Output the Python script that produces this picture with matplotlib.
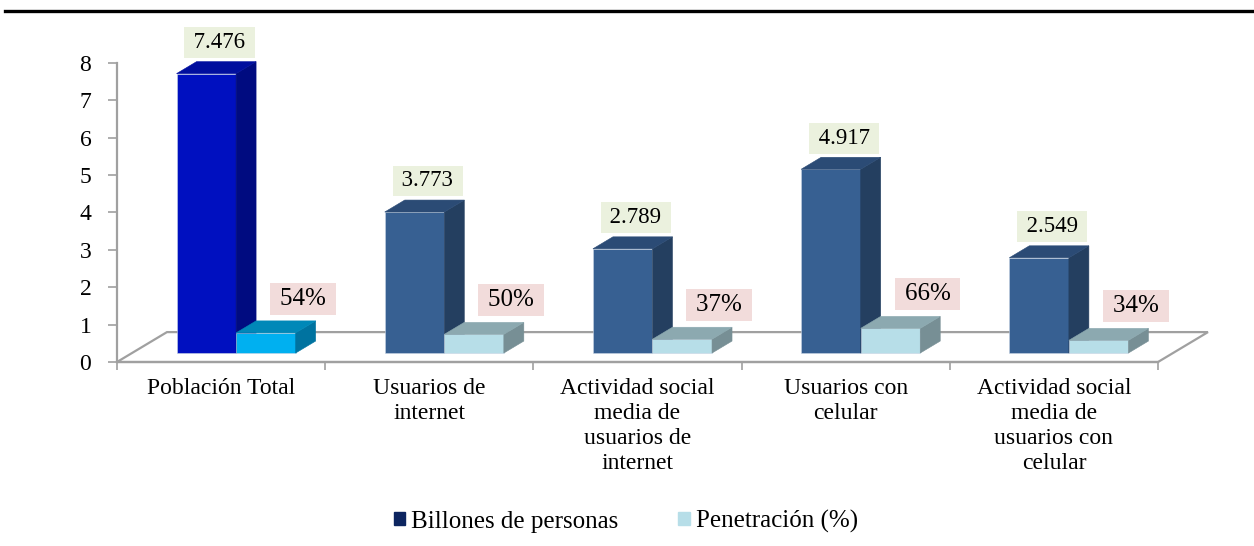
import matplotlib
matplotlib.use('Agg')
from matplotlib import pyplot as plt
from matplotlib.patches import Polygon, Patch
from matplotlib.lines import Line2D

# data
categories = ['Población Total', 'Usuarios de\ninternet',
              'Actividad social\nmedia de\nusuarios de\ninternet',
              'Usuarios con\ncelular',
              'Actividad social\nmedia de\nusuarios con\ncelular']
billones = [7.476, 3.773, 2.789, 4.917, 2.549]
penetracion = [54, 50, 37, 66, 34]
series_names = ['Billones de personas', 'Penetración (%)']

plt.rcParams['font.family'] = ['Liberation Serif', 'DejaVu Serif']

# colours: (front, side, top)
first_dark = ('#0010C0', '#000B80', '#000E9E')
first_light = ('#00B0F0', '#0073A0', '#0088B8')
dark = ('#376092', '#243F60', '#2B4B75')
light = ('#B7DEE8', '#778F95', '#8CA9B0')
grey = '#A0A0A0'

fig = plt.figure(figsize=(12.54, 5.46), dpi=100)
ax = fig.add_axes([117 / 1254, (546 - 362) / 546, (1158 - 117) / 1254, (362 - 63) / 546])
ax.set_xlim(0, 5)
ax.set_ylim(0, 8)

# fake 3D geometry (data units)
floor_dx, floor_dy = 0.24, 0.80
bw = 0.286
off_x, off_y = 0.072, 0.24
dep_x, dep_y = 0.096, 0.32

# floor outline
ax.add_patch(Polygon([(0, 0), (floor_dx, floor_dy), (5 + floor_dx, floor_dy), (5, 0)],
                     closed=True, fill=False, edgecolor=grey, lw=1.6, clip_on=False, zorder=1))


def box(x0, h, cols):
    front, side, top = cols
    y0 = off_y
    x1 = x0 + bw
    ax.add_patch(Polygon([(x0, y0), (x1, y0), (x1, y0 + h), (x0, y0 + h)],
                         facecolor=front, edgecolor='#C8D4E4', lw=0.4, clip_on=False, zorder=3))
    ax.add_patch(Polygon([(x1, y0), (x1 + dep_x, y0 + dep_y), (x1 + dep_x, y0 + h + dep_y), (x1, y0 + h)],
                         facecolor=side, edgecolor=side, lw=0.4, clip_on=False, zorder=3))
    ax.add_patch(Polygon([(x0, y0 + h), (x1, y0 + h), (x1 + dep_x, y0 + h + dep_y), (x0 + dep_x, y0 + h + dep_y)],
                         facecolor=top, edgecolor=top, lw=0.4, clip_on=False, zorder=3))


ts = '\u2009'
for i, (b, p) in enumerate(zip(billones, penetracion)):
    c = i + 0.5
    cd = first_dark if i == 0 else dark
    cl = first_light if i == 0 else light
    x_dark = c - bw + off_x
    x_light = c + off_x
    box(x_dark, b, cd)
    box(x_light, p / 100, cl)
    ax.text(x_dark + bw / 2 + dep_x / 2 + 0.015, b + off_y + dep_y + 0.51, ts + f'{b:.3f}' + ts,
            ha='center', va='center', fontsize=16.5, zorder=5,
            bbox=dict(boxstyle='square,pad=0.21', fc='#EBF1DE', ec='none'))
    ax.text(x_light + bw / 2 + dep_x / 2 + 0.13, p / 100 + off_y + dep_y + 0.59, ts + f'{p}%' + ts,
            ha='center', va='center', fontsize=18, zorder=5,
            bbox=dict(boxstyle='square,pad=0.2', fc='#F2DCDB', ec='none'))

# axes styling
for s in ['top', 'right']:
    ax.spines[s].set_visible(False)
ax.spines['left'].set_color(grey)
ax.spines['bottom'].set_color(grey)
ax.spines['left'].set_linewidth(1.6)
ax.spines['bottom'].set_linewidth(1.6)
ax.set_yticks(range(0, 9))
ax.tick_params(axis='y', colors=grey, length=6.5, width=1.2, labelsize=17, labelcolor='black', pad=12)
ax.set_xticks(range(0, 6))
ax.set_xticklabels([])
ax.tick_params(axis='x', colors=grey, length=6, width=1.2, direction='out')
ax.set_xticks([i + 0.5 for i in range(5)], minor=True)
ax.set_xticklabels(categories, minor=True, fontsize=17, linespacing=1.26)
ax.tick_params(axis='x', which='minor', length=0, pad=11.5, labelcolor='black')
ax.patch.set_visible(False)

handles = [Patch(color='#0D2560'), Patch(color='#B7DEE8')]
fig.legend(handles, series_names, loc='center', bbox_to_anchor=(0.499, 0.045), ncol=2,
           frameon=False, fontsize=18, handlelength=0.45, handleheight=0.45,
           handletextpad=0.25, columnspacing=2.4)

# thick rule at the top of the page
fig.add_artist(Line2D([0.004, 1.0], [1 - 10.5 / 546] * 2, color='black', lw=2.4))

fig.savefig('out.png', dpi=100)
